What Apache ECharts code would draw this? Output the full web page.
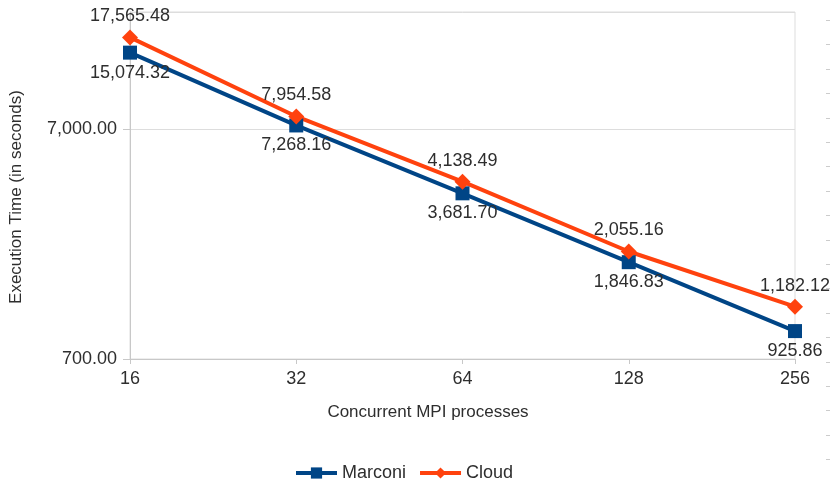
<!DOCTYPE html>
<html>
<head>
<meta charset="utf-8">
<script src="https://cdn.jsdelivr.net/npm/echarts@6/dist/echarts.min.js"></script>
<style>
  html, body { margin: 0; padding: 0; background: #fff; }
  #chart { width: 830px; height: 483px; }
</style>
</head>
<body>
<div id="chart"></div>
<script>
// Concurrent MPI process counts (category axis)
const processes = ['16', '32', '64', '128', '256'];
// Execution time in seconds
const marconi = [15074.32, 7268.16, 3681.70, 1846.83, 925.86];
const cloud = [17565.48, 7954.58, 4138.49, 2055.16, 1182.12];
// Logarithmic value axis: base value and visible decades above it
const logBase = 700;
const logSpan = 1.51;

const FONT = '"Liberation Sans", Arial, sans-serif';
const TEXT = '#2e2e2e';

function fmt(v) {
  return v.toLocaleString('en-US', { minimumFractionDigits: 2, maximumFractionDigits: 2 });
}
// values are placed on a linear axis in log10 units relative to the base
function toLog(v) { return Math.log10(v / logBase); }

function buildSeries(name, values, color, symbol, size, labelPos) {
  return {
    name: name,
    type: 'line',
    data: values.map(v => ({ value: toLog(v), raw: v })),
    symbol: symbol,
    symbolSize: size,
    lineStyle: { color: color, width: 4 },
    itemStyle: { color: color },
    label: {
      show: true,
      position: labelPos,
      distance: 4,
      fontFamily: FONT,
      fontSize: 18,
      color: TEXT,
      formatter: p => fmt(p.data.raw)
    },
    emphasis: { disabled: true },
    animation: false
  };
}

// short tick marks down the right edge
const edgeTicks = [];
for (let y = 20; y <= 483; y += 24.4) {
  edgeTicks.push({
    type: 'line',
    shape: { x1: 826, y1: Math.round(y) + 0.5, x2: 830, y2: Math.round(y) + 0.5 },
    style: { stroke: '#cccccc', lineWidth: 1 }
  });
}

const chart = echarts.init(document.getElementById('chart'), null, { renderer: 'canvas' });
chart.setOption({
  backgroundColor: '#ffffff',
  animation: false,
  textStyle: { fontFamily: FONT },
  grid: {
    left: 130, right: 35, top: 12, bottom: 124,
    show: true, borderColor: '#dddddd', borderWidth: 1
  },
  legend: {
    left: 289, top: 459,
    itemWidth: 41, itemHeight: 14,
    itemGap: 12,
    lineStyle: { width: 4 },
    textStyle: { fontFamily: FONT, fontSize: 18, color: TEXT },
    data: ['Marconi', 'Cloud']
  },
  xAxis: {
    type: 'category',
    data: processes,
    boundaryGap: false,
    axisLine: { lineStyle: { color: '#c8c8c8', width: 1 } },
    axisTick: { show: true, alignWithLabel: true, length: 5, lineStyle: { color: '#c8c8c8' } },
    axisLabel: { fontFamily: FONT, fontSize: 18, color: TEXT, margin: 11 },
    splitLine: { show: false }
  },
  yAxis: {
    type: 'value',
    min: 0,
    max: logSpan,
    interval: 1,
    axisLine: { show: true, lineStyle: { color: '#c8c8c8', width: 1 } },
    axisTick: { show: true, length: 7, lineStyle: { color: '#c8c8c8' } },
    axisLabel: {
      fontFamily: FONT, fontSize: 18, color: TEXT, margin: 13,
      showMaxLabel: false,
      formatter: v => (Math.abs(v - Math.round(v)) < 1e-9 ? fmt(logBase * Math.pow(10, v)) : '')
    },
    splitLine: { show: true, lineStyle: { color: '#dddddd', width: 1 } }
  },
  graphic: [
    {
      type: 'text',
      x: 16, y: 197,
      rotation: Math.PI / 2,
      style: {
        text: 'Execution Time (in seconds)',
        fontFamily: FONT, fontSize: 17, fill: TEXT,
        align: 'center', verticalAlign: 'middle'
      }
    },
    {
      type: 'text',
      x: 428, y: 412,
      style: {
        text: 'Concurrent MPI processes',
        fontFamily: FONT, fontSize: 17, fill: TEXT,
        align: 'center', verticalAlign: 'middle'
      }
    }
  ].concat(edgeTicks),
  series: [
    buildSeries('Marconi', marconi, '#004586', 'rect', 14, 'bottom'),
    buildSeries('Cloud', cloud, '#ff420e', 'diamond', 16, 'top')
  ]
});
</script>
</body>
</html>
